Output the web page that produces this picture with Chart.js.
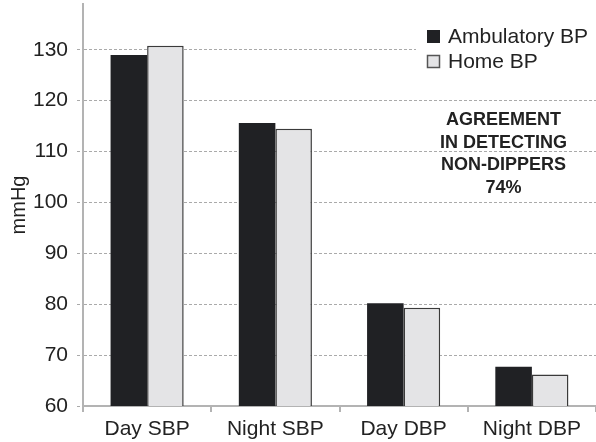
<!DOCTYPE html>
<html>
<head>
<meta charset="utf-8">
<script src="https://cdn.jsdelivr.net/npm/chart.js@4/dist/chart.umd.min.js"></script>
<style>
  html, body { margin: 0; padding: 0; background: #fff; }
  #wrap { width: 596px; height: 442px; }
</style>
</head>
<body>
<div id="wrap"><canvas id="bpChart"></canvas></div>
<script>
const categories = ['Day SBP', 'Night SBP', 'Day DBP', 'Night DBP'];
const ambulatory = [129, 115.6, 80.2, 67.7];
const home = [130.8, 114.5, 79.3, 66.2];
const yTicks = [60, 70, 80, 90, 100, 110, 120, 130];
const note = ['AGREEMENT', 'IN DETECTING', 'NON-DIPPERS', '74%'];

const FONT = '"Liberation Sans", Arial, Helvetica, sans-serif';
const INK = '#222';
const AXIS = '#b3b3b3';

// legend box in the top right + the agreement note
const boxLegend = {
  id: 'boxLegend',
  afterDraw(chart) {
    const ctx = chart.ctx;
    ctx.save();
    ctx.fillStyle = '#fff';
    ctx.fillRect(416, 18, 180, 54);

    ctx.font = '21px ' + FONT;
    ctx.textBaseline = 'alphabetic';
    ctx.textAlign = 'left';
    chart.data.datasets.forEach((ds, i) => {
      const y = 30 + i * 25;
      ctx.fillStyle = ds.backgroundColor;
      ctx.fillRect(427, y, 13, 13);
      if (i > 0) {
        ctx.strokeStyle = '#555';
        ctx.lineWidth = 1.5;
        ctx.strokeRect(427.5, y + 0.5, 12, 12);
      }
      ctx.fillStyle = INK;
      ctx.fillText(ds.label, 448, y + 12.5);
    });

    ctx.font = 'bold 18px ' + FONT;
    ctx.textAlign = 'center';
    note.forEach((line, i) => {
      ctx.fillText(line, 503.5, 125 + i * 22.5);
    });
    ctx.restore();
  }
};

new Chart(document.getElementById('bpChart'), {
  type: 'bar',
  data: {
    labels: categories,
    datasets: [
      { label: 'Ambulatory BP', data: ambulatory, backgroundColor: '#202124', borderWidth: 0 },
      { label: 'Home BP', data: home, backgroundColor: '#e4e4e6', borderColor: '#3a3a3a', borderWidth: 1.5 }
    ]
  },
  options: {
    responsive: true,
    maintainAspectRatio: false,
    animation: false,
    categoryPercentage: 0.57,
    barPercentage: 1.0,
    layout: { padding: { top: 4, right: 0, left: 0, bottom: 0 } },
    plugins: {
      legend: { display: false },
      tooltip: { enabled: false }
    },
    scales: {
      x: {
        grid: { display: true, drawOnChartArea: false, drawTicks: true, tickLength: 6, color: AXIS, lineWidth: 2 },
        border: { display: true, color: AXIS, width: 2 },
        ticks: { color: INK, font: { family: FONT, size: 21 }, padding: 5, maxRotation: 0 },
        afterFit(scale) { scale.height = 36; scale.paddingLeft = 0; scale.paddingRight = 0; }
      },
      y: {
        min: 60,
        max: 139,
        afterBuildTicks(scale) { scale.ticks = yTicks.map(v => ({ value: v })); },
        grid: { color: '#aaa', lineWidth: 1, tickLength: 6, tickBorderDash: [3, 2] },
        border: { display: true, color: AXIS, width: 2, dash: [3, 2] },
        ticks: { color: INK, font: { family: FONT, size: 21 }, padding: 9 },
        title: { display: true, text: 'mmHg', color: INK, font: { family: FONT, size: 20 }, padding: { top: 7, bottom: 0 } },
        afterFit(scale) { scale.width = 83; scale.paddingTop = 0; scale.paddingBottom = 0; }
      }
    }
  },
  plugins: [boxLegend]
});
</script>
</body>
</html>
